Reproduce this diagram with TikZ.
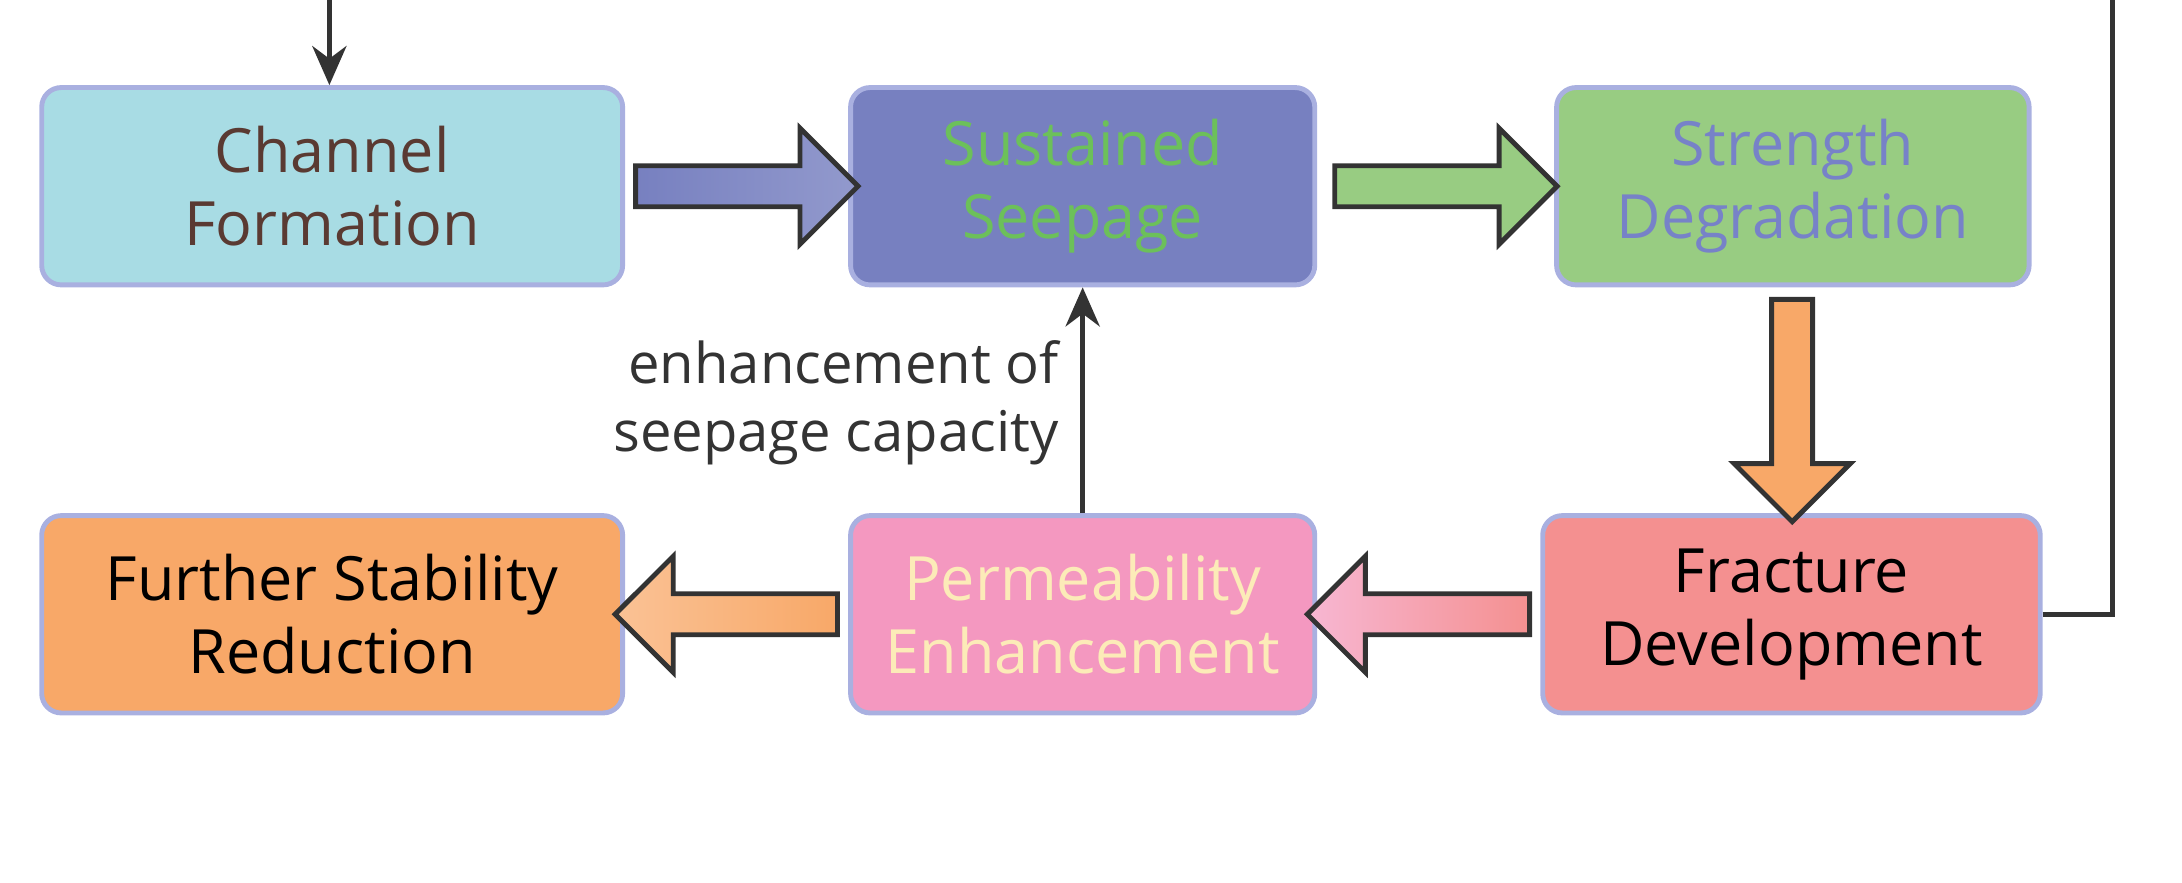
\documentclass[tikz,border=0pt]{standalone}
\usepackage{fontspec}
\setmainfont{Open Sans}
\usetikzlibrary{positioning,calc,shapes.arrows,arrows.meta}
\definecolor{boxline}{HTML}{A9B0E0}
\definecolor{cyanfill}{HTML}{A8DCE4}
\definecolor{bluefill}{HTML}{7780C0}
\definecolor{greenfill}{HTML}{98CC82}
\definecolor{redfill}{HTML}{F49090}
\definecolor{pinkfill}{HTML}{F498C0}
\definecolor{orangefill}{HTML}{F8A868}
\definecolor{greentext}{HTML}{6CC05A}
\definecolor{bluetext}{HTML}{7782C8}
\definecolor{creamtext}{HTML}{FCEBB8}
\definecolor{browntext}{HTML}{5A3A32}
\definecolor{linegrey}{HTML}{333333}
\tikzset{
  stage/.style={draw=boxline, line width=1pt, rounded corners=4pt,
    minimum height=1.42cm, align=center, font=\fontsize{12.5}{15}\selectfont},
  fat/.style={single arrow, draw=linegrey, line width=1pt, inner sep=0pt,
    text height=0.26cm, text depth=0pt, minimum width=0.8cm,
    single arrow head extend=0.27cm, minimum height=1.6cm},
  link/.style={draw=linegrey, line width=1pt, -{Stealth[length=8pt,width=7pt]}},
  note/.style={font=\fontsize{11.5}{14}\selectfont, text=linegrey}
}
\begin{document}
\begin{tikzpicture}
\useasboundingbox (0,0.48) rectangle (15.70,6.83);

% Top row
\node[stage, fill=cyanfill, text=browntext, minimum width=4.18cm] (channel) at (2.39,5.49) {Channel\\Formation};
\node[stage, fill=bluefill, text=greentext, minimum width=3.34cm] (seepage) at (7.79,5.49) {Sustained\\Seepage};
\node[stage, fill=greenfill, text=bluetext, minimum width=3.40cm] (strength) at (12.90,5.49) {Strength\\Degradation};

% Bottom row
\node[stage, fill=redfill, text=black, minimum width=3.58cm] (fracture) at (12.89,2.41) {Fracture\\Development};
\node[stage, fill=pinkfill, text=creamtext, minimum width=3.34cm] (perm) at (7.79,2.41) {Permeability\\Enhancement};
\node[stage, fill=orangefill, text=black, minimum width=4.18cm] (further) at (2.39,2.41) {Further Stability\\Reduction};

% Fat arrows
\node[fat, left color=bluefill, middle color=cyan!60, right color=bluefill!80] (a1) at ($(channel.east)!0.5!(seepage.west)$) {};
\node[fat, left color=greenfill, middle color=bluefill, right color=greenfill] (a2) at ($(seepage.east)!0.5!(strength.west)$) {};
\node[fat, shape border rotate=270, text height=0pt, text width=0.26cm, top color=orangefill, middle color=greenfill, bottom color=orangefill] (a3) at ($(strength.south)!0.5!(fracture.north)$) {};
\node[fat, shape border rotate=180, left color=pinkfill!70, middle color=pinkfill, right color=redfill] (a4) at ($(fracture.west)!0.5!(perm.east)$) {};
\node[fat, shape border rotate=180, left color=orangefill!70, middle color=pinkfill, right color=orangefill] (a5) at ($(perm.west)!0.5!(further.east)$) {};

% Feedback loops
\coordinate (loopR) at (15.20,2.41);
\coordinate (loopTR) at (15.20,7.00);
\coordinate (loopTL) at (2.37,7.00);
\draw[link] (fracture.east) -- (loopR) -- (loopTR) -- (loopTL) -- (loopTL |- channel.north);
\node[note] (loopText) at (9.0,7.48) {pores and microfractures gradually become connected};

\draw[link] (perm.north) -- (seepage.south);
\node[note, anchor=east, align=right] (capText) at (7.74,3.93) {enhancement of\\seepage capacity};
\end{tikzpicture}
\end{document}
